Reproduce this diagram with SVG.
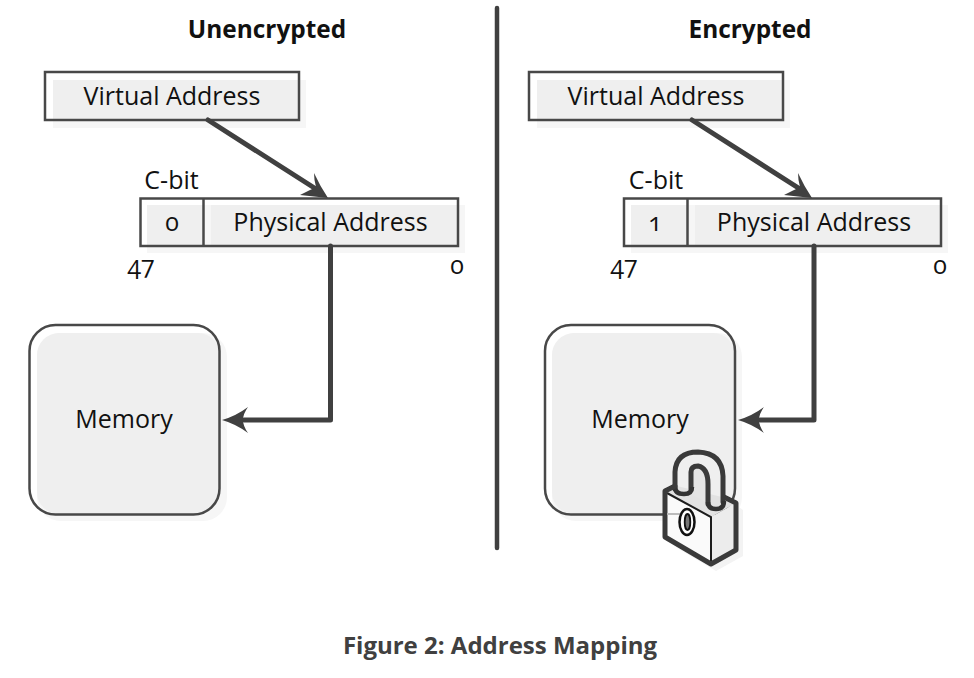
<svg xmlns="http://www.w3.org/2000/svg" width="974" height="678" viewBox="0 0 974 678">
<defs>
<style>
text{font-family:"Open Sans","Noto Sans","Liberation Sans",sans-serif;fill:#111;font-size:25px;text-anchor:middle}
.h{font-weight:700;font-size:24.400px}
.cap{font-weight:700;font-size:24px;fill:#404040}
.num{font-variant-numeric:oldstyle-nums;font-feature-settings:"onum"}
.box{fill:none;stroke:#484848;stroke-width:2.500}
.fill{fill:#efefef}
.shadow{fill:#f6f6f6}
.wire{fill:none;stroke:#404040;stroke-width:5;stroke-linejoin:round;stroke-linecap:round}
.head{fill:#404040}
.out{fill:none;stroke:#3a3a3a;stroke-width:5;stroke-linejoin:round;stroke-linecap:round}
.thin{fill:none;stroke:#1c1c1c;stroke-width:2}
</style>
</defs>
<rect width="974" height="678" fill="#fff"/>

<g id="divider"><line x1="497" y1="8" x2="497" y2="548" stroke="#404040" stroke-width="4.500" stroke-linecap="round"/></g>
<g id="title-left"><text class="h" x="267" y="38">Unencrypted</text></g>
<g id="title-right"><text class="h" x="750" y="38">Encrypted</text></g>

<g id="virtual-left">
<rect class="shadow" x="53" y="80" width="253" height="48"/>
<rect class="fill" x="53" y="80" width="246" height="40"/>
<rect class="box" x="45" y="72" width="254" height="48"/>
<text x="172" y="105">Virtual Address</text>
</g>
<g id="physical-left">
<rect class="shadow" x="147" y="205" width="318" height="48"/>
<rect class="fill" x="147" y="205" width="56" height="41"/>
<rect class="fill" x="211" y="205" width="247" height="41"/>
<rect class="box" x="140.500" y="198.500" width="317.500" height="47.500"/>
<line class="box" x1="203.500" y1="198" x2="203.500" y2="246"/>
<text class="num" x="172" y="231">0</text>
<text x="330.500" y="231">Physical Address</text>
<text x="171.500" y="189">C-bit</text>
<text class="num" x="141" y="274">47</text>
<text class="num" x="457" y="274">0</text>
</g>
<g id="memory-left">
<rect class="shadow" x="37" y="333" width="190" height="188" rx="24"/>
<rect class="fill" x="37" y="333" width="183" height="181" rx="22"/>
<rect class="box" x="29.500" y="325" width="190" height="189.500" rx="26"/>
<text x="124" y="428">Memory</text>
</g>

<g id="virtual-right">
<rect class="shadow" x="537" y="80" width="253" height="48"/>
<rect class="fill" x="537" y="80" width="246" height="40"/>
<rect class="box" x="529" y="72" width="254" height="48"/>
<text x="656" y="105">Virtual Address</text>
</g>
<g id="physical-right">
<rect class="shadow" x="631" y="205" width="317" height="48"/>
<rect class="fill" x="631" y="205" width="56" height="41"/>
<rect class="fill" x="695" y="205" width="246" height="41"/>
<rect class="box" x="624" y="198.500" width="317" height="47.500"/>
<line class="box" x1="687.500" y1="198" x2="687.500" y2="246"/>
<text class="num" x="655" y="231">1</text>
<text x="814" y="231">Physical Address</text>
<text x="656" y="189">C-bit</text>
<text class="num" x="624" y="274">47</text>
<text class="num" x="940" y="274">0</text>
</g>
<g id="memory-right">
<rect class="shadow" x="552" y="333" width="190" height="188" rx="24"/>
<rect class="fill" x="552" y="333" width="183" height="181" rx="22"/>
<rect class="box" x="545" y="325" width="190" height="189.500" rx="26"/>
<text x="640" y="428">Memory</text>
</g>

<g id="lock">
<path d="M672 545 L716 571 L743 556 L743 510 L736 505 L736 550 L711 564Z" fill="#f3f3f3"/>
<path d="M666 492 L711 517 L711 562 L666 537Z" fill="#fafafa"/>
<path d="M711 517 L736 503 L736 549 L711 562Z" fill="#ececec"/>
<path d="M666 492 L677 486 L722 497 L736 503 L711 517Z" fill="#e2e2e2"/>
<path d="M691 488 L691 470 Q691 466 697 466 Q708 468 708 483 L708 503 L691 494Z" fill="#e4e4e4"/>
<path class="out" d="M675 489 L675 472 Q676 452 698 452 Q722 453 723 476 L723 502"/>
<path class="out" stroke-width="5" d="M691 489 L691 472 Q691 466 698 466 Q708 468 708 484 L708 504"/>
<path d="M675 487 Q675 494 684 494 Q692 494 692 487" fill="none" stroke="#333" stroke-width="4.500"/>
<path d="M708 502 Q708 509 716 509 Q724 509 724 501" fill="none" stroke="#333" stroke-width="4.500"/>
<path class="thin" d="M667 493 L711 517 L711 562"/>
<path class="out" d="M675 486 L665 491 L665 537 L711 564 L736 550 L736 503 L724 497"/>
<line x1="667" y1="514" x2="680" y2="514" stroke="#bbb" stroke-width="2"/>
<ellipse cx="687" cy="522" rx="7.500" ry="13" fill="#fff" stroke="#111" stroke-width="2.500"/>
<ellipse cx="687.500" cy="522" rx="2.800" ry="8" fill="#777" stroke="#111" stroke-width="1.800"/>
</g>

<g id="connectors">
<path class="wire" d="M208 120 L316 189"/>
<path class="head" d="M328 198 L300 195 Q310 190 316 187 Q314 180 314 173 Q320 186 328 198Z"/>
<path class="wire" d="M330.500 246 V420 H244"/>
<path class="head" d="M222 420 Q236 416 248 407 Q243 414 243 420 Q243 426 248 433 Q236 424 222 420Z"/>
<path class="wire" d="M692 120 L800 189"/>
<path class="head" d="M812 198 L784 195 Q794 190 800 187 Q798 180 798 173 Q804 186 812 198Z"/>
<path class="wire" d="M814 246 V420 H760"/>
<path class="head" d="M738 420 Q752 416 764 407 Q759 414 759 420 Q759 426 764 433 Q752 424 738 420Z"/>
</g>
<g id="caption"><text class="cap" x="500" y="654">Figure 2: Address Mapping</text></g>
</svg>
